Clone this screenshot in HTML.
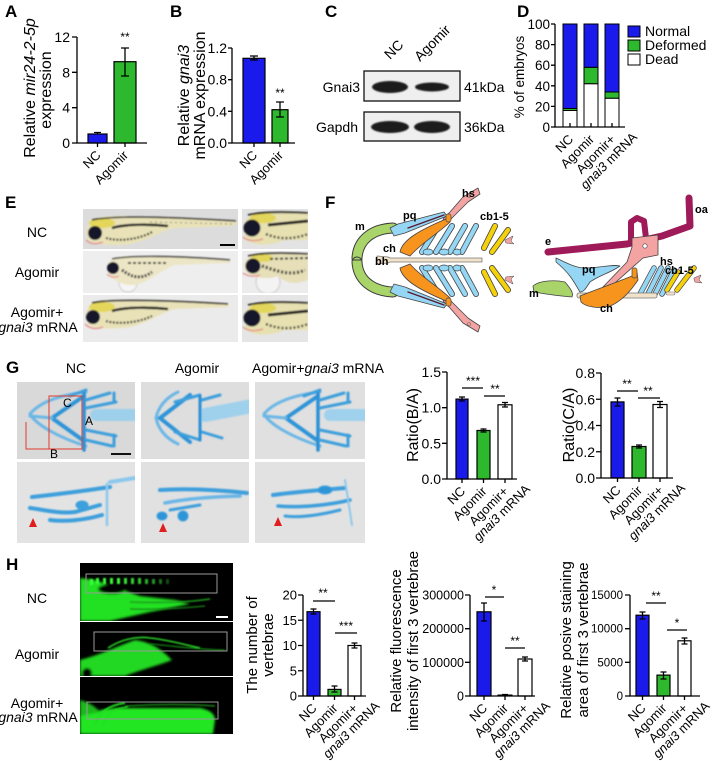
<!DOCTYPE html>
<html><head><meta charset="utf-8"><style>
html,body{margin:0;padding:0;background:#fff;}
svg{display:block;}
text{font-family:"Liberation Sans",Arial,sans-serif;fill:#000;}
</style></head><body>
<svg width="713" height="761" viewBox="0 0 713 761" xmlns="http://www.w3.org/2000/svg">
<defs>
<filter id="bl" x="-20%" y="-20%" width="140%" height="140%"><feGaussianBlur stdDeviation="0.7"/></filter>
<filter id="bl2" x="-20%" y="-20%" width="140%" height="140%"><feGaussianBlur stdDeviation="1.4"/></filter>
<clipPath id="cE1"><rect x="83" y="209" width="155" height="40"/></clipPath>
<clipPath id="cE2"><rect x="242" y="209" width="66" height="40"/></clipPath>
<clipPath id="cE3"><rect x="83" y="251" width="155" height="42"/></clipPath>
<clipPath id="cE4"><rect x="242" y="251" width="66" height="42"/></clipPath>
<clipPath id="cE5"><rect x="83" y="295" width="155" height="47"/></clipPath>
<clipPath id="cE6"><rect x="242" y="295" width="66" height="47"/></clipPath>
<clipPath id="cG1"><rect x="17" y="382" width="118" height="77"/></clipPath>
<clipPath id="cG2"><rect x="141" y="382" width="108" height="77"/></clipPath>
<clipPath id="cG3"><rect x="255" y="382" width="110" height="77"/></clipPath>
<clipPath id="cG4"><rect x="17" y="462" width="118" height="81"/></clipPath>
<clipPath id="cG5"><rect x="141" y="462" width="108" height="81"/></clipPath>
<clipPath id="cG6"><rect x="255" y="462" width="110" height="81"/></clipPath>
<clipPath id="cH1"><rect x="80" y="563" width="153" height="58"/></clipPath>
<clipPath id="cH2"><rect x="80" y="622" width="153" height="54"/></clipPath>
<clipPath id="cH3"><rect x="80" y="677" width="153" height="57"/></clipPath>
</defs>

<!-- Panel letters -->
<g font-weight="bold" font-size="17">
<text x="5" y="17">A</text><text x="170" y="17">B</text><text x="325" y="17">C</text><text x="517" y="17">D</text>
<text x="5" y="208">E</text><text x="325" y="208">F</text><text x="6" y="373">G</text><text x="6" y="570">H</text>
</g>

<!-- ============ A ============ -->
<rect x="88" y="134" width="19" height="9" fill="#1a1aeb" stroke="#000" stroke-width="1.2"/>
<rect x="114" y="61.7" width="22" height="81.3" fill="#2eb82e" stroke="#000" stroke-width="1.2"/>
<g stroke="#000" stroke-width="1.3" fill="none">
<path d="M77 37V143H147"/>
<path d="M72 37H77M72 72.3H77M72 107.7H77M72 143H77"/>
<path d="M97.5 143V147M125 143V147"/>
<path d="M94 132.5H101M97.5 132.5V134M121 48H129M125 48V76M121 76H129"/>
</g>
<g font-size="14" text-anchor="end">
<text x="70" y="42">12</text><text x="70" y="77.3">8</text><text x="70" y="112.7">4</text><text x="70" y="148">0</text>
</g>
<text x="125" y="41" font-size="12" text-anchor="middle">**</text>
<text transform="translate(35,88) rotate(-90)" text-anchor="middle" font-size="16">Relative <tspan font-style="italic">mir24-2-5p</tspan></text>
<text transform="translate(51,90) rotate(-90)" text-anchor="middle" font-size="16">expression</text>
<g font-size="13" text-anchor="end">
<text transform="translate(101.5,156) rotate(-45)">NC</text>
<text transform="translate(129,156) rotate(-45)">Agomir</text>
</g>

<!-- ============ B ============ -->
<rect x="243" y="58.3" width="22" height="84.7" fill="#1a1aeb" stroke="#000" stroke-width="1.2"/>
<rect x="272" y="109.7" width="16" height="33.3" fill="#2eb82e" stroke="#000" stroke-width="1.2"/>
<g stroke="#000" stroke-width="1.3" fill="none">
<path d="M232 48V143H295"/>
<path d="M228 48H232M228 79.7H232M228 111.3H232M228 143H232"/>
<path d="M254 143V147M280 143V147"/>
<path d="M250 56H258M254 56V60M250 60H258M276 102H284M280 102V117M276 117H284"/>
</g>
<g font-size="14" text-anchor="end">
<text x="227" y="53">1.2</text><text x="227" y="84.7">0.8</text><text x="227" y="116.3">0.4</text><text x="227" y="148">0.0</text>
</g>
<text x="280" y="97" font-size="12" text-anchor="middle">**</text>
<text transform="translate(189,95.5) rotate(-90)" text-anchor="middle" font-size="16">Relative <tspan font-style="italic">gnai3</tspan></text>
<text transform="translate(205,95.5) rotate(-90)" text-anchor="middle" font-size="16">mRNA expression</text>
<g font-size="13" text-anchor="end">
<text transform="translate(258,156) rotate(-45)">NC</text>
<text transform="translate(284,156) rotate(-45)">Agomir</text>
</g>

<!-- ============ C ============ -->
<g font-size="14">
<text transform="translate(390,60) rotate(-45)">NC</text>
<text transform="translate(420,62) rotate(-45)">Agomir</text>
<text x="360" y="92" text-anchor="end">Gnai3</text>
<text x="358" y="132" text-anchor="end">Gapdh</text>
<text x="464" y="92">41kDa</text>
<text x="464" y="132">36kDa</text>
</g>
<rect x="364" y="71" width="96" height="30" fill="#efefef" stroke="#111" stroke-width="1.3"/>
<rect x="364" y="112" width="96" height="29" fill="#efefef" stroke="#111" stroke-width="1.3"/>
<g fill="#1a1a1a" filter="url(#bl)">
<ellipse cx="390" cy="87" rx="18" ry="6"/>
<ellipse cx="432" cy="87" rx="17" ry="4.5"/>
<ellipse cx="390" cy="127" rx="19" ry="6"/>
<ellipse cx="432" cy="127" rx="18" ry="6"/>
</g>

<!-- ============ D ============ -->
<g stroke="#000" stroke-width="1">
<rect x="563" y="110.5" width="14" height="16.5" fill="#fff"/>
<rect x="563" y="108.5" width="14" height="2" fill="#2eb82e"/>
<rect x="563" y="24" width="14" height="84.5" fill="#1a1aeb"/>
<rect x="584" y="83.7" width="14" height="43.3" fill="#fff"/>
<rect x="584" y="67.3" width="14" height="16.4" fill="#2eb82e"/>
<rect x="584" y="24" width="14" height="43.3" fill="#1a1aeb"/>
<rect x="605" y="98.2" width="14" height="28.8" fill="#fff"/>
<rect x="605" y="92" width="14" height="6.2" fill="#2eb82e"/>
<rect x="605" y="24" width="14" height="68" fill="#1a1aeb"/>
</g>
<g stroke="#000" stroke-width="1.3" fill="none">
<path d="M555 24V127H625"/>
<path d="M551 24H555M551 44.6H555M551 65.2H555M551 85.8H555M551 106.4H555M551 127H555"/>
<path d="M570 127V123M591 127V123M612 127V123"/>
</g>
<g font-size="13.5" text-anchor="end">
<text x="550" y="29">100</text><text x="550" y="49.6">80</text><text x="550" y="70.2">60</text><text x="550" y="90.8">40</text><text x="550" y="111.4">20</text><text x="550" y="132">0</text>
</g>
<rect x="628" y="26" width="12" height="11" fill="#1a1aeb" stroke="#000"/>
<rect x="628" y="40" width="12" height="11" fill="#2eb82e" stroke="#000"/>
<rect x="628" y="54" width="12" height="11" fill="#fff" stroke="#000"/>
<g font-size="14">
<text x="645" y="36">Normal</text><text x="645" y="50">Deformed</text><text x="645" y="64">Dead</text>
</g>
<text transform="translate(524,77) rotate(-90)" text-anchor="middle" font-size="13.5">% of embryos</text>
<g font-size="13" text-anchor="end">
<text transform="translate(574,140) rotate(-45)">NC</text>
<text transform="translate(595,140) rotate(-45)">Agomir</text>
<text transform="translate(616,140) rotate(-45)"><tspan x="0" y="0">Agomir+</tspan><tspan x="17" y="14"><tspan font-style="italic">gnai3</tspan> mRNA</tspan></text>
</g>

<!-- ============ E ============ -->
<g font-size="14" text-anchor="middle">
<text x="37" y="237">NC</text>
<text x="37" y="277">Agomir</text>
<text x="37" y="317">Agomir+</text>
<text x="38" y="332"><tspan font-style="italic">gnai3</tspan> mRNA</text>
</g>
<g clip-path="url(#cE1)">
<rect x="83" y="209" width="155" height="40" fill="#dcdcdc"/>
<g filter="url(#bl)">
<path d="M86 233 C86 222 96 217 110 216 L170 217 L236 221 C238 223 236 225 232 226 L175 228 C160 231 150 240 130 244 C115 246 95 245 88 240 Z" fill="#e9e2b8"/>
<ellipse cx="102" cy="223" rx="13" ry="5" fill="#e3d65a"/>
<path d="M92 220 C110 216 150 216 236 221" stroke="#2a2a2a" stroke-width="1.6" fill="none"/>
<path d="M112 228 C125 224 150 224 168 226" stroke="#222" stroke-width="2.6" fill="none"/>
<path d="M106 238 C120 242 140 239 152 232" stroke="#333" stroke-width="2.2" stroke-dasharray="2 1.5" fill="none"/>
<path d="M150 222 L232 224" stroke="#666" stroke-width="0.8" stroke-dasharray="2 3" fill="none"/>
<circle cx="95" cy="233" r="7" fill="#16162a"/>
<path d="M86 240 Q92 246 103 242" stroke="#e58a8a" stroke-width="1.3" fill="none"/>
</g>
<path d="M220 245H235" stroke="#000" stroke-width="2"/>
</g>
<g clip-path="url(#cE2)">
<rect x="242" y="209" width="66" height="40" fill="#e3e3e3"/>
<g filter="url(#bl)">
<path d="M244 226 C246 214 260 211 275 212 L308 213 L308 240 L285 240 C270 246 255 246 246 240 Z" fill="#e7e0b0"/>
<ellipse cx="263" cy="218" rx="13" ry="5" fill="#e2d55c"/>
<path d="M248 215 C265 211 290 212 308 213" stroke="#222" stroke-width="1.8" fill="none"/>
<path d="M268 225 L308 221" stroke="#222" stroke-width="3" fill="none"/>
<path d="M266 234 C280 240 295 239 308 234" stroke="#333" stroke-width="2.4" stroke-dasharray="2 2" fill="none"/>
<circle cx="252" cy="228" r="8.5" fill="#16162a"/>
<path d="M243 237 Q250 243 263 239" stroke="#e58a8a" stroke-width="1.3" fill="none"/>
</g>
</g>
<g clip-path="url(#cE3)">
<rect x="83" y="251" width="155" height="42" fill="#eeeeee"/>
<g filter="url(#bl)">
<circle cx="128" cy="283" r="9" fill="#f5f5f5" stroke="#d6caca" stroke-width="1"/>
<path d="M108 266 C108 259 118 256 130 256 L180 257 L230 260 C232 262 230 263 228 263 L175 265 C160 270 150 282 135 285 C122 286 112 280 108 273 Z" fill="#ece6c6"/>
<path d="M112 259 C130 255 180 256 230 260" stroke="#333" stroke-width="1.4" fill="none"/>
<path d="M122 270 C130 276 140 281 152 272" stroke="#2a2a2a" stroke-width="3" stroke-dasharray="2 1.5" fill="none"/>
<path d="M128 263 L168 263" stroke="#333" stroke-width="2" stroke-dasharray="3 2" fill="none"/>
<circle cx="113" cy="268" r="6" fill="#16162a"/>
<path d="M107 274 Q112 279 119 276" stroke="#e58a8a" stroke-width="1.2" fill="none"/>
</g>
</g>
<g clip-path="url(#cE4)">
<rect x="242" y="251" width="66" height="42" fill="#ececec"/>
<g filter="url(#bl)">
<circle cx="268" cy="282" r="12" fill="#f3f3f3" stroke="#d0c6c6" stroke-width="1"/>
<path d="M244 265 C246 256 258 253 270 253 L308 254 L308 280 C295 285 285 283 278 276 C268 280 255 278 246 272 Z" fill="#e6dfb8"/>
<ellipse cx="262" cy="258" rx="11" ry="4" fill="#e2d55c"/>
<path d="M248 256 C265 252 290 253 308 254" stroke="#222" stroke-width="1.6" fill="none"/>
<path d="M262 266 C275 270 290 277 305 270" stroke="#222" stroke-width="3.2" stroke-dasharray="2 2" fill="none"/>
<path d="M270 259 L308 258" stroke="#333" stroke-width="2" stroke-dasharray="3 2" fill="none"/>
<circle cx="253" cy="266" r="7.5" fill="#16162a"/>
<path d="M243 273 Q250 278 260 275" stroke="#e58a8a" stroke-width="1.2" fill="none"/>
</g>
</g>
<g clip-path="url(#cE5)">
<rect x="83" y="295" width="155" height="47" fill="#ebebeb"/>
<g filter="url(#bl)">
<path d="M86 316 C86 304 96 301 110 300 L170 301 L228 304 C230 306 228 307 225 307 L175 309 C160 313 150 322 130 327 C115 329 95 330 88 324 Z" fill="#e9e2b8"/>
<ellipse cx="102" cy="307" rx="13" ry="5" fill="#e3d65a"/>
<path d="M92 303 C110 299 160 300 228 304" stroke="#2a2a2a" stroke-width="1.6" fill="none"/>
<path d="M112 311 C125 307 150 307 168 309" stroke="#222" stroke-width="2.6" fill="none"/>
<path d="M106 321 C120 325 140 322 152 316" stroke="#333" stroke-width="2.2" stroke-dasharray="2 1.5" fill="none"/>
<circle cx="93" cy="317" r="7" fill="#16162a"/>
<path d="M85 324 Q92 331 103 327" stroke="#e58a8a" stroke-width="1.3" fill="none"/>
</g>
</g>
<g clip-path="url(#cE6)">
<rect x="242" y="295" width="66" height="47" fill="#e5e5e5"/>
<g filter="url(#bl)">
<path d="M244 316 C246 304 260 301 275 302 L308 303 L308 330 L285 330 C270 336 255 336 246 330 Z" fill="#e7e0b0"/>
<ellipse cx="263" cy="308" rx="13" ry="5" fill="#e2d55c"/>
<path d="M248 305 C265 301 290 302 308 303" stroke="#222" stroke-width="1.8" fill="none"/>
<path d="M268 315 L308 311" stroke="#222" stroke-width="3" fill="none"/>
<path d="M266 324 C280 330 295 329 308 324" stroke="#333" stroke-width="2.4" stroke-dasharray="2 2" fill="none"/>
<circle cx="252" cy="318" r="8.5" fill="#16162a"/>
<path d="M243 327 Q250 333 263 329" stroke="#e58a8a" stroke-width="1.3" fill="none"/>
</g>
</g>

<!-- ============ F ============ -->
<g stroke-linecap="round" stroke-linejoin="round">
<g id="fU">
<path d="M393 228 C372 229 358 240 357 258" fill="none" stroke="#3a3a3a" stroke-width="11"/>
<path d="M393 228 C372 229 358 240 357 258" fill="none" stroke="#a9d46a" stroke-width="9"/>
<path d="M390 228 L398 224 L444 212 L447 216 L405 233 L394 236 Z" fill="#94d6f3" stroke="#444" stroke-width="0.8"/>
<path d="M408 228 L444 215" stroke="#5a1a30" stroke-width="1.4"/>
<path d="M443 219 L450 212 L463 197 L478 188 L480 194 L468 202 L455 215 L448 222 Z" fill="#f4a3a3" stroke="#444" stroke-width="0.8"/>
<circle cx="469" cy="196" r="1.5" fill="none" stroke="#666" stroke-width="0.6"/>
<g stroke="#444" stroke-width="6"><path d="M422 252 L437 228M436 252 L452 226M450 252 L465 226M462 252 L476 226"/></g>
<g stroke="#94d6f3" stroke-width="4.4"><path d="M422 252 L437 228M436 252 L452 226M450 252 L465 226M462 252 L476 226"/></g>
<g fill="#94d6f3" stroke="#444" stroke-width="0.7"><ellipse cx="428" cy="252" rx="5" ry="3"/><ellipse cx="444" cy="252" rx="5" ry="3"/><ellipse cx="457" cy="252" rx="4" ry="3"/></g>
<g stroke="#444" stroke-width="6"><path d="M484 248 L495 226M492 252 L508 230"/></g>
<g stroke="#f5d10a" stroke-width="4.4"><path d="M484 248 L495 226M492 252 L508 230"/></g>
<path d="M505 240 L513 236 L511 241 L514 244 L506 243 Z" fill="#f4a3a3" stroke="#444" stroke-width="0.5"/>
<path d="M400 252 C402 240 420 230 446 219 L450 222 C440 232 420 244 410 256 Z" fill="#f7941d" stroke="#444" stroke-width="0.8"/>
<rect x="446" y="214" width="5" height="8" rx="2" fill="#f7941d" stroke="#444" stroke-width="0.7"/>
</g>
<use href="#fU" transform="matrix(1 0 0 -1 0 520)"/>
<path d="M352 260 H362" stroke="#3a3a3a" stroke-width="1"/>
<path d="M377 256 L388 257 L390 258 L482 258 L482 262 L390 262 L388 263 L377 264 Z" fill="#f1e2c9" stroke="#777" stroke-width="0.8"/>
<path d="M548 252 L627 244 L662 236 L690 226 L689 198" fill="none" stroke="#9e1a58" stroke-width="7"/>
<path d="M631 240 L631 222 L637 218 L644 221 L646 238" fill="none" stroke="#9e1a58" stroke-width="6"/>
<path d="M632 238 L658 235 L658 255 L643 258 L607 290 L602 288 L627 262 L632 247 Z" fill="#f4a3a3" stroke="#444" stroke-width="0.8"/>
<circle cx="645" cy="246" r="2.2" fill="#fff" stroke="#444" stroke-width="0.6"/>
<path d="M556 258 C565 262 575 268 585 268 C600 268 612 264 620 266 C612 272 598 276 590 282 C586 288 584 292 580 292 C576 286 572 275 556 262 Z" fill="#94d6f3" stroke="#444" stroke-width="0.8"/>
<path d="M533 286 C540 280 555 280 565 282 C570 288 574 293 572 297 C560 296 545 294 534 292 Z" fill="#a9d46a" stroke="#444" stroke-width="0.8"/>
<g stroke="#444" stroke-width="5.5"><path d="M640 294 L654 268M648 294 L661 268M655 294 L668 268M662 294 L674 270"/></g>
<g stroke="#94d6f3" stroke-width="4"><path d="M640 294 L654 268M648 294 L661 268M655 294 L668 268M662 294 L674 270"/></g>
<rect x="577" y="293" width="80" height="5" rx="2" fill="#f1e2c9" stroke="#777" stroke-width="0.8"/>
<path d="M580 296 C595 290 615 283 632 276 L637 272 L638 280 C630 292 620 302 610 306 C598 309 586 307 581 302 Z" fill="#f7941d" stroke="#444" stroke-width="0.8"/>
<rect x="632" y="268" width="5" height="10" rx="2" fill="#f7941d" stroke="#444" stroke-width="0.7"/>
<g stroke="#444" stroke-width="5.5"><path d="M667 290 L678 272M677 290 L694 268"/></g>
<g stroke="#f5d10a" stroke-width="4"><path d="M667 290 L678 272M677 290 L694 268"/></g>
<rect x="666" y="292" width="9" height="3" rx="1.5" fill="#f1e2c9" stroke="#777" stroke-width="0.6"/>
<path d="M694 278 L701 275 L699 280 L702 283 L695 282 Z" fill="#f4a3a3" stroke="#444" stroke-width="0.5"/>
</g>
<g font-size="11" font-weight="bold">
<text x="462" y="197">hs</text><text x="403" y="219">pq</text><text x="480" y="220">cb1-5</text>
<text x="355" y="230">m</text><text x="383" y="252">ch</text><text x="375" y="265">bh</text>
<text x="695" y="213">oa</text><text x="545" y="245">e</text><text x="660" y="265">hs</text>
<text x="665" y="274">cb1-5</text><text x="582" y="273">pq</text><text x="529" y="297">m</text><text x="600" y="312">ch</text>
</g>

<!-- ============ G images ============ -->
<g font-size="14" text-anchor="middle">
<text x="76" y="373">NC</text><text x="197" y="373">Agomir</text>
<text x="252" y="373" text-anchor="start">Agomir+<tspan font-style="italic">gnai3</tspan> mRNA</text>
</g>
<rect x="17" y="382" width="118" height="77" fill="#d9d9d9"/>
<rect x="141" y="382" width="108" height="77" fill="#dedede"/>
<rect x="255" y="382" width="110" height="77" fill="#e0e0e0"/>
<rect x="17" y="462" width="118" height="81" fill="#e3e3e3"/>
<rect x="141" y="462" width="108" height="81" fill="#e1e1e1"/>
<rect x="255" y="462" width="110" height="81" fill="#e2e2e2"/>
<g id="gNC" clip-path="url(#cG1)" fill="none" stroke-linecap="round" filter="url(#bl)">
<path d="M96 415 L140 415" stroke="#8fcdef" stroke-width="12" opacity="0.8"/>
<path d="M86 392 C60 395 40 402 30 414 C36 425 60 438 86 446" stroke="#6ab6e6" stroke-width="3"/>
<path d="M84 396 L52 418 L84 441" stroke="#2f94d8" stroke-width="4"/>
<path d="M52 418 L30 416" stroke="#6ab6e6" stroke-width="3"/>
<path d="M84 392 V450" stroke="#2a8fd6" stroke-width="3.5"/>
<path d="M86 400 L110 393M86 408 L116 402M86 430 L116 436M86 440 L112 446M70 396 L86 390M114 393 V402M114 435 V446" stroke="#3c9fdc" stroke-width="3"/>
</g>
<g clip-path="url(#cG3)"><use href="#gNC" transform="translate(234,0)"/></g>
<g clip-path="url(#cG2)" fill="none" stroke-linecap="round" filter="url(#bl)">
<path d="M205 415 L252 406" stroke="#8fcdef" stroke-width="14" opacity="0.8"/>
<path d="M178 392 C165 398 158 408 156 418 C158 428 165 438 178 444" stroke="#6ab6e6" stroke-width="3"/>
<path d="M190 395 L160 418 L190 442" stroke="#2f94d8" stroke-width="4"/>
<path d="M175 402 L200 395M175 432 L200 440M202 400 L220 395M202 432 L222 438" stroke="#3c9fdc" stroke-width="3"/>
<path d="M200 396 V440" stroke="#2a8fd6" stroke-width="3"/>
</g>
<g fill="none" stroke="#e23b2e" stroke-width="1">
<rect x="49" y="396" width="33" height="53"/>
<path d="M26 422 V449 H49"/>
</g>
<g font-size="12"><text x="63" y="407" fill="#e23b2e">C</text><text x="85" y="425" fill="#e23b2e">A</text><text x="50" y="458" fill="#e23b2e">B</text></g>
<path d="M111 454 H131" stroke="#111" stroke-width="2"/>
<g clip-path="url(#cG4)" fill="none" stroke-linecap="round" filter="url(#bl)" stroke="#3c9fdc">
<path d="M32 497 C60 494 90 490 110 487" stroke-width="4"/>
<path d="M30 508 C45 510 60 514 75 512 L100 505" stroke-width="4"/>
<path d="M50 520 C65 522 85 520 102 515" stroke-width="4"/>
<ellipse cx="82" cy="505" rx="6" ry="4" fill="#3c9fdc"/>
<path d="M107 484 V525" stroke="#8cc8ec" stroke-width="2.5"/>
<path d="M110 482 L135 478" stroke="#8cc8ec" stroke-width="4"/>
</g>
<g clip-path="url(#cG5)" fill="none" stroke-linecap="round" filter="url(#bl)" stroke="#3c9fdc">
<path d="M160 490 C190 488 220 490 247 493" stroke-width="4"/>
<path d="M165 503 C180 500 200 497 240 496" stroke="#6ab6e6" stroke-width="3.5"/>
<ellipse cx="162" cy="516" rx="5" ry="4" fill="#2f94d8"/>
<ellipse cx="183" cy="516" rx="5" ry="5" fill="#2f94d8"/>
<path d="M170 510 L200 505" stroke-width="3"/>
</g>
<g clip-path="url(#cG6)" fill="none" stroke-linecap="round" filter="url(#bl)" stroke="#3c9fdc">
<path d="M273 495 C295 492 320 490 345 488" stroke-width="4"/>
<ellipse cx="325" cy="490" rx="7" ry="4" fill="#2f94d8"/>
<path d="M278 506 C300 508 330 505 350 500" stroke-width="3.5"/>
<path d="M285 516 C300 518 320 515 340 510" stroke-width="3"/>
<path d="M345 480 L352 525" stroke="#8cc8ec" stroke-width="2"/>
</g>
<g fill="#e01e1e">
<polygon points="29,527 37,527 33,518"/>
<polygon points="159,532 167,532 163,523"/>
<polygon points="274,526 282,526 278,517"/>
</g>

<!-- ============ G charts ============ -->
<rect x="456" y="399.1" width="12" height="79.9" fill="#1a1aeb" stroke="#000" stroke-width="1.2"/>
<rect x="477" y="430.5" width="13" height="48.5" fill="#2eb82e" stroke="#000" stroke-width="1.2"/>
<rect x="498" y="404.8" width="14" height="74.2" fill="#fff" stroke="#000" stroke-width="1.2"/>
<g stroke="#000" stroke-width="1.3" fill="none">
<path d="M447 372V479H517"/>
<path d="M442 372H447M442 407.7H447M442 443.3H447M442 479H447"/>
<path d="M462 479V483M483.5 479V483M505 479V483"/>
<path d="M459 397H465M462 397V401M459 401H465M480.5 429H486.5M483.5 429V432M480.5 432H486.5M502 402.5H508M505 402.5V407M502 407H508"/>
<path d="M462 388H483M484 396H505"/>
</g>
<g font-size="14" text-anchor="end">
<text x="441" y="377">1.5</text><text x="441" y="412.7">1.0</text><text x="441" y="448.3">0.5</text><text x="441" y="484">0.0</text>
</g>
<g font-size="12" text-anchor="middle"><text x="473" y="385">***</text><text x="495" y="393">**</text></g>
<text transform="translate(418,425) rotate(-90)" text-anchor="middle" font-size="16">Ratio(B/A)</text>
<g font-size="13" text-anchor="end">
<text transform="translate(466,492) rotate(-45)">NC</text>
<text transform="translate(487.5,492) rotate(-45)">Agomir</text>
<text transform="translate(509,492) rotate(-45)"><tspan x="0" y="0">Agomir+</tspan><tspan x="17" y="14"><tspan font-style="italic">gnai3</tspan> mRNA</tspan></text>
</g>

<rect x="611" y="401.9" width="13" height="76.1" fill="#1a1aeb" stroke="#000" stroke-width="1.2"/>
<rect x="632" y="446.5" width="14" height="31.5" fill="#2eb82e" stroke="#000" stroke-width="1.2"/>
<rect x="653" y="404.5" width="14" height="73.5" fill="#fff" stroke="#000" stroke-width="1.2"/>
<g stroke="#000" stroke-width="1.3" fill="none">
<path d="M601 373V478H673"/>
<path d="M596 373H601M596 399.25H601M596 425.5H601M596 451.75H601M596 478H601"/>
<path d="M617.5 478V482M639 478V482M660 478V482"/>
<path d="M614.5 398H620.5M617.5 398V406M614.5 406H620.5M636 445H642M639 445V448M636 448H642M657 401.5H663M660 401.5V407.5M657 407.5H663"/>
<path d="M617 391H638M638 398H660"/>
</g>
<g font-size="14" text-anchor="end">
<text x="595" y="378">0.8</text><text x="595" y="404.25">0.6</text><text x="595" y="430.5">0.4</text><text x="595" y="456.75">0.2</text><text x="595" y="483">0.0</text>
</g>
<g font-size="12" text-anchor="middle"><text x="627" y="388">**</text><text x="648" y="395">**</text></g>
<text transform="translate(574,425) rotate(-90)" text-anchor="middle" font-size="16">Ratio(C/A)</text>
<g font-size="13" text-anchor="end">
<text transform="translate(621.5,491) rotate(-45)">NC</text>
<text transform="translate(643,491) rotate(-45)">Agomir</text>
<text transform="translate(664,491) rotate(-45)"><tspan x="0" y="0">Agomir+</tspan><tspan x="17" y="14"><tspan font-style="italic">gnai3</tspan> mRNA</tspan></text>
</g>

<!-- ============ H images ============ -->
<g font-size="14" text-anchor="middle">
<text x="37" y="603">NC</text>
<text x="37" y="659">Agomir</text>
<text x="37" y="708">Agomir+</text>
<text x="38" y="722"><tspan font-style="italic">gnai3</tspan> mRNA</text>
</g>
<rect x="80" y="563" width="153" height="58" fill="#000"/>
<rect x="80" y="622" width="153" height="54" fill="#000"/>
<rect x="80" y="677" width="153" height="57" fill="#000"/>
<g clip-path="url(#cH1)">
<g filter="url(#bl2)">
<path d="M80 578 L95 580 L140 596 L175 600 L190 604 L150 612 L110 621 L80 621 Z" fill="#22e022"/>
<ellipse cx="112" cy="589" rx="14" ry="5" fill="#000"/>
</g>
<g filter="url(#bl)">
<path d="M130 602 C160 603 190 602 210 599" stroke="#1fa01f" stroke-width="1.6" fill="none"/>
<path d="M130 609 C160 610 185 608 205 606" stroke="#168a16" stroke-width="1.2" fill="none"/>
<g fill="#3aff3a">
<rect x="90" y="579" width="3" height="6"/><rect x="96" y="578" width="3" height="6"/><rect x="103" y="578" width="3" height="6"/>
<rect x="110" y="578" width="3" height="6"/><rect x="117" y="578" width="3" height="6"/><rect x="124" y="578" width="3" height="6" opacity="0.9"/>
<rect x="131" y="578" width="3" height="6" opacity="0.85"/><rect x="138" y="578" width="3" height="6" opacity="0.8"/><rect x="145" y="579" width="3" height="5" opacity="0.7"/>
<rect x="152" y="579" width="3" height="5" opacity="0.6"/><rect x="159" y="579" width="3" height="5" opacity="0.45"/><rect x="166" y="579" width="3" height="5" opacity="0.3"/>
</g>
</g>
<rect x="86" y="574" width="131" height="19" fill="none" stroke="#9a9a9a" stroke-width="1"/>
<path d="M216 617 H228" stroke="#fff" stroke-width="2"/>
</g>
<g clip-path="url(#cH2)">
<g filter="url(#bl2)">
<path d="M80 676 L80 660 C100 655 120 645 135 640 C150 642 160 648 172 660 C160 665 140 670 125 676 Z" fill="#20d820"/>
<circle cx="87" cy="673" r="5" fill="#000"/>
</g>
<g filter="url(#bl)" fill="none">
<path d="M108 648 C120 640 135 636 150 638 C170 640 185 645 200 648" stroke="#2bd62b" stroke-width="1.6"/>
<path d="M150 644 C175 646 200 650 225 650" stroke="#17a017" stroke-width="1.1"/>
</g>
<rect x="94" y="632" width="133" height="19" fill="none" stroke="#9a9a9a" stroke-width="1"/>
</g>
<g clip-path="url(#cH3)">
<g filter="url(#bl2)">
<path d="M80 734 L80 715 C90 712 100 710 115 708 L200 708 C210 710 215 714 215 720 L213 734 Z" fill="#22e622"/>
<path d="M80 700 C88 702 95 706 100 712 L80 716 Z" fill="#1bb81b"/>
</g>
<g filter="url(#bl)" fill="none">
<path d="M95 725 C98 712 110 705 125 703" stroke="#22dd22" stroke-width="2"/>
<path d="M103 725 C106 714 115 708 128 707" stroke="#22dd22" stroke-width="1.6"/>
<path d="M125 706 C160 704 190 704 215 706" stroke="#1a9a1a" stroke-width="1.2"/>
</g>
<rect x="87" y="702" width="131" height="17" fill="none" stroke="#9a9a9a" stroke-width="1"/>
</g>

<!-- ============ H chart 1 ============ -->
<rect x="307" y="611.7" width="13" height="84.3" fill="#1a1aeb" stroke="#000" stroke-width="1.2"/>
<rect x="328" y="689.4" width="13" height="6.6" fill="#2eb82e" stroke="#000" stroke-width="1.2"/>
<rect x="348" y="645.5" width="13" height="50.5" fill="#fff" stroke="#000" stroke-width="1.2"/>
<g stroke="#000" stroke-width="1.3" fill="none">
<path d="M303 595V696H366"/>
<path d="M298 595H303M298 620.25H303M298 645.5H303M298 670.75H303M298 696H303"/>
<path d="M313.5 696V700M334.5 696V700M354.5 696V700"/>
<path d="M310.5 609H316.5M313.5 609V614M310.5 614H316.5M331.5 686H337.5M334.5 686V692M331.5 692H337.5M351.5 643H357.5M354.5 643V648M351.5 648H357.5"/>
<path d="M313 601H335M335 633H357"/>
</g>
<g font-size="13" text-anchor="end">
<text x="297" y="599.5">20</text><text x="297" y="624.75">15</text><text x="297" y="650">10</text><text x="297" y="675.25">5</text><text x="297" y="700.5">0</text>
</g>
<g font-size="12" text-anchor="middle"><text x="323" y="597">**</text><text x="346" y="630">***</text></g>
<text transform="translate(257,645) rotate(-90)" text-anchor="middle" font-size="15">The number of</text>
<text transform="translate(273,645) rotate(-90)" text-anchor="middle" font-size="15">vertebrae</text>
<g font-size="13" text-anchor="end">
<text transform="translate(317.5,709) rotate(-45)">NC</text>
<text transform="translate(338.5,709) rotate(-45)">Agomir</text>
<text transform="translate(358.5,709) rotate(-45)"><tspan x="0" y="0">Agomir+</tspan><tspan x="17" y="14"><tspan font-style="italic">gnai3</tspan> mRNA</tspan></text>
</g>

<!-- ============ H chart 2 ============ -->
<rect x="477" y="611.8" width="14" height="84.2" fill="#1a1aeb" stroke="#000" stroke-width="1.2"/>
<rect x="498" y="695" width="14" height="1" fill="#2eb82e" stroke="#000" stroke-width="1"/>
<rect x="518" y="659" width="14" height="37" fill="#fff" stroke="#000" stroke-width="1.2"/>
<g stroke="#000" stroke-width="1.3" fill="none">
<path d="M470 595V696H535"/>
<path d="M465 595H470M465 628.7H470M465 662.3H470M465 696H470"/>
<path d="M484 696V700M505 696V700M525 696V700"/>
<path d="M481 603H487M484 603V621M481 621H487M502 694.5H508M522 657H528M525 657V661M522 661H528"/>
<path d="M485 597H504M505 648H525"/>
</g>
<g font-size="12.5" text-anchor="end">
<text x="464" y="599.5">300000</text><text x="464" y="633.2">200000</text><text x="464" y="666.8">100000</text><text x="464" y="700.5">0</text>
</g>
<g font-size="12" text-anchor="middle"><text x="494" y="594">*</text><text x="515" y="645">**</text></g>
<text transform="translate(401,641) rotate(-90)" text-anchor="middle" font-size="15">Relative fluorescence</text>
<text transform="translate(418,641) rotate(-90)" text-anchor="middle" font-size="15">intensity of first 3 vertebrae</text>
<g font-size="13" text-anchor="end">
<text transform="translate(488,709) rotate(-45)">NC</text>
<text transform="translate(509,709) rotate(-45)">Agomir</text>
<text transform="translate(529,709) rotate(-45)"><tspan x="0" y="0">Agomir+</tspan><tspan x="17" y="14"><tspan font-style="italic">gnai3</tspan> mRNA</tspan></text>
</g>

<!-- ============ H chart 3 ============ -->
<rect x="636" y="615.2" width="13" height="80.8" fill="#1a1aeb" stroke="#000" stroke-width="1.2"/>
<rect x="657" y="675.1" width="13" height="20.9" fill="#2eb82e" stroke="#000" stroke-width="1.2"/>
<rect x="678" y="640.8" width="13" height="55.2" fill="#fff" stroke="#000" stroke-width="1.2"/>
<g stroke="#000" stroke-width="1.3" fill="none">
<path d="M630 595V696H700"/>
<path d="M625 595H630M625 628.7H630M625 662.3H630M625 696H630"/>
<path d="M642.5 696V700M663.5 696V700M684.5 696V700"/>
<path d="M639.5 612H645.5M642.5 612V619M639.5 619H645.5M660.5 672H666.5M663.5 672V679M660.5 679H666.5M681.5 638H687.5M684.5 638V644M681.5 644H687.5"/>
<path d="M646 603H666M667 630H687"/>
</g>
<g font-size="11.5" text-anchor="end">
<text x="623" y="599">15000</text><text x="623" y="632.7">10000</text><text x="623" y="666.3">5000</text><text x="623" y="700">0</text>
</g>
<g font-size="12" text-anchor="middle"><text x="656" y="600">**</text><text x="677" y="627">*</text></g>
<text transform="translate(571,640) rotate(-90)" text-anchor="middle" font-size="15">Relative posive staining</text>
<text transform="translate(588,640) rotate(-90)" text-anchor="middle" font-size="15">area of first 3 vertebrae</text>
<g font-size="13" text-anchor="end">
<text transform="translate(646.5,709) rotate(-45)">NC</text>
<text transform="translate(667.5,709) rotate(-45)">Agomir</text>
<text transform="translate(688.5,709) rotate(-45)"><tspan x="0" y="0">Agomir+</tspan><tspan x="17" y="14"><tspan font-style="italic">gnai3</tspan> mRNA</tspan></text>
</g>
</svg>
</body></html>
